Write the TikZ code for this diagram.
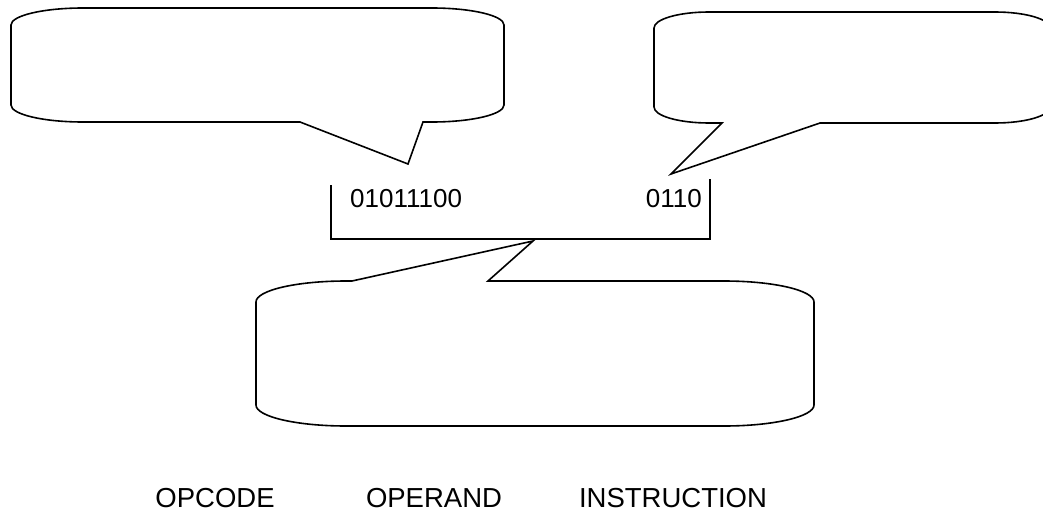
\documentclass[tikz,border=0pt]{standalone}
\usepackage{fontspec}
\setmainfont{Liberation Sans}
\begin{document}
\begin{tikzpicture}[x=1pt,y=-1pt,
  outline/.style={draw=black,line width=1.6pt,line join=miter,fill=white},
  bits/.style={inner sep=0pt,font=\fontsize{26}{30}\selectfont},
  caption/.style={inner sep=0pt,anchor=base,font=\fontsize{27.5}{32}\selectfont}]
\useasboundingbox (0,0) rectangle (1043,511);
\clip (0,0) rectangle (1043,511);

% callout pointing down-right towards the opcode
\coordinate (optip) at (408,164);
\draw[outline] (11,25) .. controls (11,15.6) and (43.3,8) .. (83,8)
  -- (432,8) .. controls (471.7,8) and (504,15.6) .. (504,25)
  -- (504,105) .. controls (504,114.4) and (471.7,122) .. (432,122)
  -- (423,122) -- (optip) -- (300,122) -- (83,122)
  .. controls (43.3,122) and (11,114.4) .. (11,105) -- cycle;

% callout pointing down-left towards the operand
\coordinate (argtip) at (671,174);
\draw[outline] (654,28) .. controls (654,19.2) and (678.6,12) .. (709,12)
  -- (995,12) .. controls (1025.4,12) and (1050,19.2) .. (1050,28)
  -- (1050,107) .. controls (1050,115.8) and (1025.4,123) .. (995,123)
  -- (820,123) -- (argtip) -- (722,123) -- (709,123)
  .. controls (678.6,123) and (654,115.8) .. (654,107) -- cycle;

% bracket around the instruction word
\coordinate (brtl) at (331,185);
\coordinate (brbl) at (331,239);
\coordinate (brbr) at (710,239);
\coordinate (brtr) at (710,179);
\draw[line width=1.6pt] (brtl) -- (brbl) -- (brbr) -- (brtr);

% callout pointing up to the bracket
\coordinate (insttip) at (533,241);
\draw[outline] (256,302) .. controls (256,290.4) and (296.3,281) .. (346,281)
  -- (352,281) -- (insttip) -- (488,281) -- (724,281)
  .. controls (773.7,281) and (814,290.4) .. (814,302)
  -- (814,405) .. controls (814,416.6) and (773.7,426) .. (724,426)
  -- (346,426) .. controls (296.3,426) and (256,416.6) .. (256,405) -- cycle;

% bit patterns
\node[bits,anchor=base west] (opbits) at (350,207) {01011100};
\node[bits,anchor=base east] (argbits) at (702,207) {0110};

% captions
\node[caption] (lblop) at (215,507) {OPCODE};
\node[caption] (lblarg) at (434,507) {OPERAND};
\node[caption] (lblinst) at (673,507) {INSTRUCTION};
\end{tikzpicture}
\end{document}
